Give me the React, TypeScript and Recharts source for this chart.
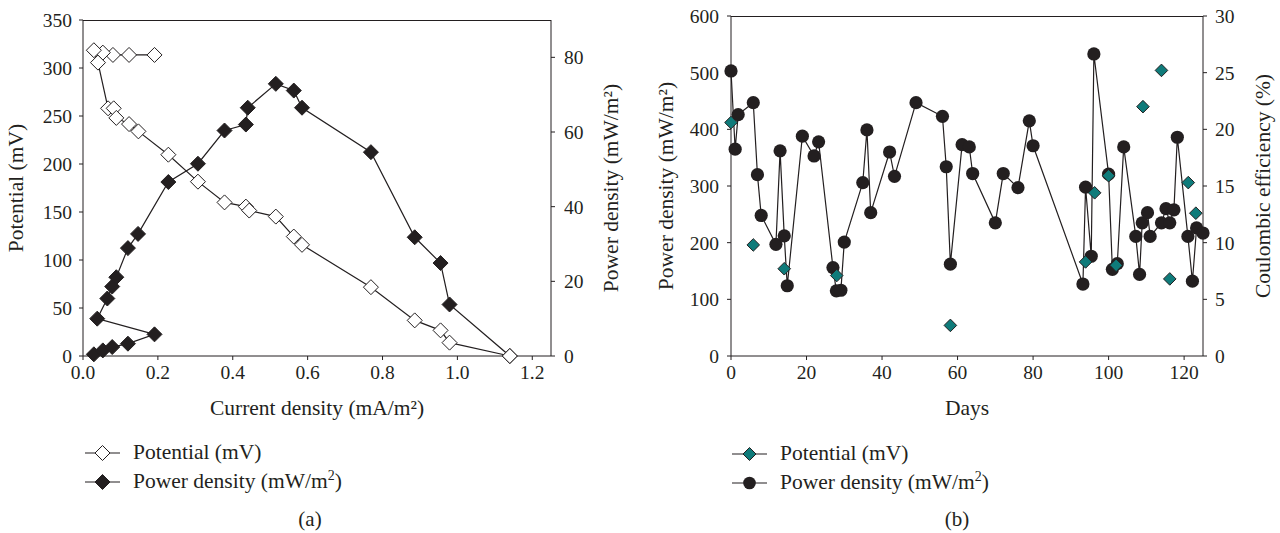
import React from "react";
import {
  ComposedChart,
  Scatter,
  XAxis,
  YAxis,
  Legend,
} from "recharts";

// (a) polarization curve
const potCurrent = [0.191, 0.123, 0.08, 0.053, 0.029, 0.04, 0.067, 0.082, 0.089, 0.123, 0.148, 0.228, 0.307, 0.378, 0.435, 0.444, 0.515, 0.563, 0.585, 0.769, 0.886, 0.955, 0.979, 1.14];
const potValues = [313.6, 313.6, 313.6, 316, 318.5, 305.6, 258, 258, 248, 241.6, 234, 209.7, 181.6, 160, 155.6, 151.5, 145.2, 124.4, 115.8, 71.7, 37.1, 26.7, 13.9, 0];
const powCurrent = [0.029, 0.053, 0.078, 0.12, 0.191, 0.038, 0.065, 0.078, 0.089, 0.12, 0.147, 0.228, 0.307, 0.378, 0.435, 0.44, 0.515, 0.563, 0.585, 0.769, 0.886, 0.955, 0.979, 1.14];
const powValues = [0.45, 1.5, 2.4, 3.3, 5.8, 10, 15.4, 18.6, 21.1, 28.9, 32.7, 46.6, 51.5, 60.4, 62, 66.5, 72.9, 71.1, 66.5, 54.6, 31.8, 24.9, 13.8, 0];
const currentTicks = [0, 0.2, 0.4, 0.6, 0.8, 1.0, 1.2];
const potentialTicks = [0, 50, 100, 150, 200, 250, 300, 350];
const powerTicksA = [0, 20, 40, 60, 80];

// (b) performance over time
const pdDays = [0, 1.1, 1.9, 5.9, 7, 8, 11.9, 13, 14.1, 14.9, 18.9, 22, 23.2, 27, 27.9, 29.1, 30, 34.9, 36, 37, 42, 43.3, 49, 56, 57, 58.1, 61.2, 63.1, 64, 70, 72.1, 76, 79, 80, 93.2, 93.9, 95.4, 96.1, 100, 101, 102.3, 104, 107.2, 108.2, 108.9, 110.3, 111, 114, 115.2, 116.2, 117.3, 118.2, 121, 122.2, 123.3, 125];
const pdValues = [503, 365, 426, 447, 320, 248, 197, 362, 212, 124, 388, 353, 378, 156, 115, 116, 201, 306, 399, 253, 360, 317, 447, 423, 334, 162, 373, 369, 322, 235, 322, 297, 415, 371, 127, 298, 176, 533, 321, 153, 163, 369, 211, 144, 235, 253, 211, 235, 260, 235, 258, 386, 211, 132, 226, 217];
const ceDays = [0, 5.9, 14.1, 28, 58.1, 93.9, 96.3, 100, 102, 109.1, 114, 116.2, 121.1, 123.1];
const ceValues = [20.6, 9.8, 7.7, 7.1, 2.7, 8.3, 14.4, 15.9, 8.0, 22.0, 25.2, 6.8, 15.3, 12.6];
const dayTicks = [0, 20, 40, 60, 80, 100, 120];
const powerTicksB = [0, 100, 200, 300, 400, 500, 600];
const ceTicks = [0, 5, 10, 15, 20, 25, 30];

const INK = "#231f20";
const TEAL = "#0f7b7a";
const FONT = '"Liberation Serif", "DejaVu Serif", serif';

const zip = (xs: number[], ys: number[]) => xs.map((x, i) => ({ x, y: ys[i] }));

const potData = zip(potCurrent, potValues);
const powData = zip(powCurrent, powValues);
const pdData = zip(pdDays, pdValues);
const ceData = zip(ceDays, ceValues);

const diamond = (fill: string, r: number) => (props: any) => {
  const { cx, cy } = props;
  if (cx == null || cy == null) return <g />;
  return (
    <polygon
      points={`${cx},${cy - r} ${cx + r},${cy} ${cx},${cy + r} ${cx - r},${cy}`}
      fill={fill}
      stroke={INK}
      strokeWidth={1}
    />
  );
};

const dot = (r: number) => (props: any) => {
  const { cx, cy } = props;
  if (cx == null || cy == null) return <g />;
  return <circle cx={cx} cy={cy} r={r} fill={INK} />;
};

const tick = { fontSize: 19.5, fill: INK, fontFamily: FONT };
const axisProps = {
  stroke: INK,
  tickSize: 4,
  tick,
};
const titleStyle = { fontSize: 21.5, fill: INK, fontFamily: FONT };

// legend rows: line + marker + label
const LegendRows = ({ rows }: { rows: { label: React.ReactNode; marker: React.ReactNode }[] }) => (
  <div style={{ fontFamily: FONT, fontSize: 21.5, color: INK }}>
    {rows.map((r, i) => (
      <div key={i} style={{ display: "flex", alignItems: "center", height: 29 }}>
        <svg width={36} height={20} style={{ display: "block" }}>
          <line x1={0} y1={10} x2={35} y2={10} stroke={INK} strokeWidth={1.2} />
          {r.marker}
        </svg>
        <span style={{ marginLeft: 12, whiteSpace: "nowrap" }}>{r.label}</span>
      </div>
    ))}
  </div>
);

const PowerLabel = () => (
  <>
    Power density (mW/m<sup style={{ fontSize: 14 }}>2</sup>)
  </>
);

function ChartA() {
  return (
    <ComposedChart
      width={640}
      height={533}
      margin={{ top: 20, right: 0, bottom: 117, left: 0 }}
    >
      <XAxis
        {...axisProps}
        xAxisId="x"
        type="number"
        dataKey="x"
        domain={[0, 1.25]}
        ticks={currentTicks}
        tickFormatter={(v: number) => v.toFixed(1)}
        tickMargin={5}
        height={60}
        label={{
          value: "Current density (mA/m²)",
          position: "insideBottom",
          offset: 1,
          style: titleStyle,
        }}
      />
      <YAxis
        {...axisProps}
        yAxisId="left"
        type="number"
        dataKey="y"
        domain={[0, 350]}
        ticks={potentialTicks}
        tickMargin={7}
        width={83}
        label={{
          value: "Potential (mV)",
          angle: -90,
          position: "insideLeft",
          offset: 15,
          style: { ...titleStyle, textAnchor: "middle" },
        }}
      />
      <YAxis
        {...axisProps}
        yAxisId="right"
        orientation="right"
        type="number"
        dataKey="y"
        domain={[0, 90]}
        ticks={powerTicksA}
        tickMargin={9}
        width={89}
        label={{
          value: "Power density (mW/m²)",
          angle: -90,
          position: "insideRight",
          offset: 30,
          style: { ...titleStyle, textAnchor: "middle" },
        }}
      />
      <Scatter
        name="Power density"
        xAxisId="x"
        yAxisId="right"
        data={powData}
        line={{ stroke: INK, strokeWidth: 1.2 }}
        shape={diamond(INK, 7.5)}
        isAnimationActive={false}
      />
      <Scatter
        name="Potential"
        xAxisId="x"
        yAxisId="left"
        data={potData}
        line={{ stroke: INK, strokeWidth: 1.2 }}
        shape={diamond("#fff", 7.5)}
        isAnimationActive={false}
      />
      <Legend
        layout="horizontal"
        verticalAlign="middle"
        align="center"
        wrapperStyle={{ left: 85, top: 438, width: 340, height: 60 }}
        content={() => (
          <LegendRows
            rows={[
              {
                label: "Potential (mV)",
                marker: <polygon points="17.5,2.5 25,10 17.5,17.5 10,10" fill="#fff" stroke={INK} />,
              },
              {
                label: <PowerLabel />,
                marker: <polygon points="17.5,2.5 25,10 17.5,17.5 10,10" fill={INK} stroke={INK} />,
              },
            ]}
          />
        )}
      />
    </ComposedChart>
  );
}

function ChartB() {
  return (
    <ComposedChart
      width={640}
      height={533}
      margin={{ top: 16, right: 0, bottom: 117, left: 0 }}
    >
      <XAxis
        {...axisProps}
        xAxisId="x"
        type="number"
        dataKey="x"
        domain={[0, 125]}
        ticks={dayTicks}
        tickMargin={5}
        height={60}
        label={{
          value: "Days",
          position: "insideBottom",
          offset: 1,
          style: titleStyle,
        }}
      />
      <YAxis
        {...axisProps}
        yAxisId="left"
        type="number"
        dataKey="y"
        domain={[0, 600]}
        ticks={powerTicksB}
        tickMargin={8}
        width={91}
        label={{
          value: "Power density (mW/m²)",
          angle: -90,
          position: "insideLeft",
          offset: 25,
          style: { ...titleStyle, textAnchor: "middle" },
        }}
      />
      <YAxis
        {...axisProps}
        yAxisId="right"
        orientation="right"
        type="number"
        dataKey="y"
        domain={[0, 30]}
        ticks={ceTicks}
        tickMargin={8}
        width={77}
        label={{
          value: "Coulombic efficiency (%)",
          angle: -90,
          position: "insideRight",
          offset: 18,
          style: { ...titleStyle, textAnchor: "middle" },
        }}
      />
      <Scatter
        name="Power density"
        xAxisId="x"
        yAxisId="left"
        data={pdData}
        line={{ stroke: INK, strokeWidth: 1.2 }}
        shape={dot(6.6)}
        isAnimationActive={false}
      />
      <Scatter
        name="Potential"
        xAxisId="x"
        yAxisId="right"
        data={ceData}
        shape={diamond(TEAL, 6.3)}
        isAnimationActive={false}
      />
      <Legend
        layout="horizontal"
        verticalAlign="middle"
        align="center"
        wrapperStyle={{ left: 92, top: 439, width: 340, height: 60 }}
        content={() => (
          <LegendRows
            rows={[
              {
                label: "Potential (mV)",
                marker: <polygon points="17.5,3.5 24,10 17.5,16.5 11,10" fill={TEAL} stroke={INK} />,
              },
              {
                label: <PowerLabel />,
                marker: <circle cx={17.5} cy={10} r={6.3} fill={INK} />,
              },
            ]}
          />
        )}
      />
    </ComposedChart>
  );
}

const caption: React.CSSProperties = {
  position: "absolute",
  top: 507,
  width: 60,
  textAlign: "center",
  fontFamily: FONT,
  fontSize: 21,
  color: INK,
};

// top edge of each plot frame (the charts' margins put the plot tops at 20 and 16)
const frameTop = (left: number, top: number, width: number): React.CSSProperties => ({
  position: "absolute",
  left,
  top,
  width,
  height: 1,
  background: INK,
});

export default function App() {
  return (
    <div
      style={{
        position: "absolute",
        left: 0,
        top: 0,
        width: 1280,
        height: 533,
        background: "#fff",
        fontFamily: FONT,
      }}
    >
      <div style={{ position: "absolute", left: 0, top: 0 }}>
        <ChartA />
      </div>
      <div style={{ position: "absolute", left: 640, top: 0 }}>
        <ChartB />
      </div>
      <div style={frameTop(83, 19.5, 468)} />
      <div style={frameTop(731, 15.5, 472)} />
      <div style={{ ...caption, left: 280 }}>(a)</div>
      <div style={{ ...caption, left: 927 }}>(b)</div>
    </div>
  );
}
